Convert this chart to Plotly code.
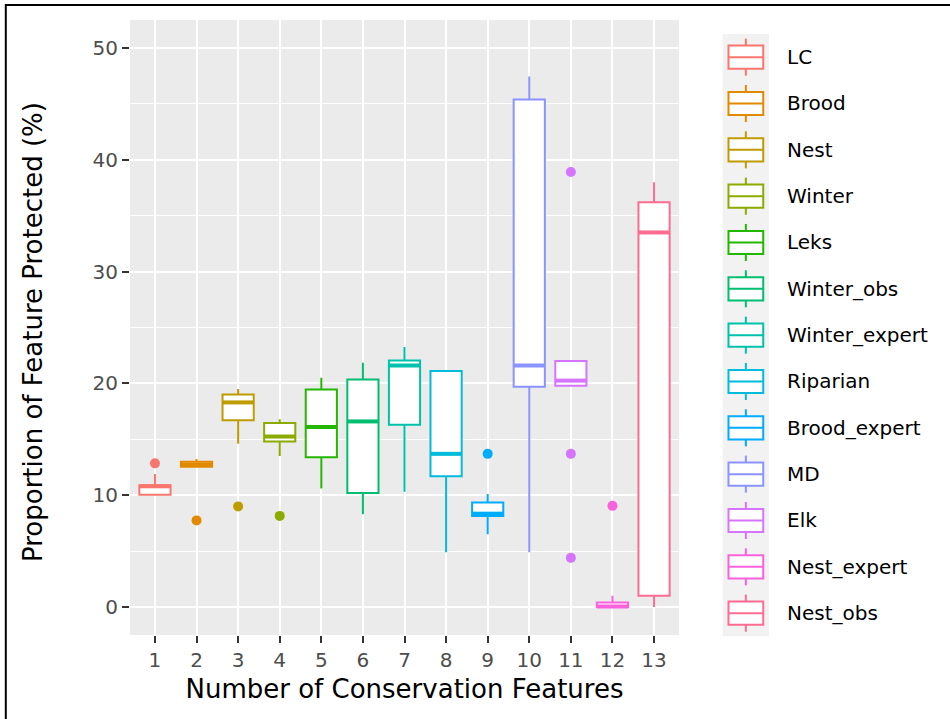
import plotly.graph_objects as go

# ---- data -------------------------------------------------------------
features = ["LC", "Brood", "Nest", "Winter", "Leks", "Winter_obs", "Winter_expert",
            "Riparian", "Brood_expert", "MD", "Elk", "Nest_expert", "Nest_obs"]
n_features = list(range(1, 14))
tick_labels = [str(n) for n in n_features]

lower_whisker = [10.05, 12.55, 14.6, 13.5, 10.6, 8.3, 10.3, 4.9, 6.5, 4.9, 19.8, 0.0, 0.0]
q1 = [10.05, 12.55, 16.7, 14.8, 13.4, 10.2, 16.3, 11.7, 8.15, 19.7, 19.8, 0.0, 1.0]
median = [10.8, 12.75, 18.3, 15.25, 16.1, 16.6, 21.6, 13.7, 8.35, 21.6, 20.25, 0.05, 33.5]
q3 = [10.9, 13.0, 19.0, 16.45, 19.45, 20.35, 22.05, 21.1, 9.35, 45.4, 22.0, 0.4, 36.2]
upper_whisker = [11.9, 13.25, 19.5, 16.8, 20.5, 21.85, 23.25, 21.1, 10.1, 47.45, 22.0, 1.0, 38.0]

outliers = {
    "LC": [12.85],
    "Brood": [7.75],
    "Nest": [9.0],
    "Winter": [8.15],
    "Brood_expert": [13.7],
    "Elk": [38.9, 13.7, 4.4],
    "Nest_expert": [9.05],
}

colors = ["#F8766D", "#E18A00", "#BE9C00", "#8CAB00", "#24B700", "#00BE70", "#00C1AB",
          "#00BBDA", "#00ACFC", "#8B93FF", "#D575FE", "#F962DD", "#FF6C91"]

# ---- page geometry ----------------------------------------------------
W, H = 950, 719
ML, MR, MT, MB = 130, 271, 20, 84
PW, PH = W - ML - MR, H - MT - MB
FONT = "DejaVu Sans"
BOX_W = 0.75


def px_x(p):
    return (p - ML) / PW


def px_y(p):
    return (H - MB - p) / PH


fig = go.Figure()

for i, name in enumerate(features):
    x = n_features[i]
    c = colors[i]
    fig.add_trace(go.Box(
        x=[x], q1=[q1[i]], median=[median[i]], q3=[q3[i]],
        lowerfence=[lower_whisker[i]], upperfence=[upper_whisker[i]],
        width=BOX_W, whiskerwidth=0, fillcolor="white",
        line=dict(color=c, width=2), boxpoints=False,
        name=name, showlegend=False,
    ))
    # thicker median bar
    fig.add_trace(go.Scatter(
        x=[x - BOX_W / 2, x + BOX_W / 2], y=[median[i], median[i]],
        mode="lines", line=dict(color=c, width=4),
        showlegend=False, hoverinfo="skip",
    ))
    if name in outliers:
        pts = outliers[name]
        fig.add_trace(go.Scatter(
            x=[x] * len(pts), y=pts, mode="markers",
            marker=dict(color=c, size=10, line=dict(width=0)),
            showlegend=False, name=name,
        ))

# ---- legend (boxplot keys) ---------------------------------------------
shapes = []
annotations = []
KEY_TOP, KEY_STEP = 34.0, 46.33
KEY_L, KEY_R = 722.7, 769.0
shapes.append(dict(type="rect", xref="paper", yref="paper",
                   x0=px_x(KEY_L), x1=px_x(KEY_R),
                   y0=px_y(KEY_TOP), y1=px_y(KEY_TOP + KEY_STEP * len(features)),
                   fillcolor="#F2F2F2", line=dict(width=0), layer="below"))
for i, name in enumerate(features):
    top = KEY_TOP + KEY_STEP * i
    cy = top + KEY_STEP / 2
    cx = (KEY_L + KEY_R) / 2
    bl = KEY_L + 0.125 * KEY_STEP
    br = KEY_L + 0.875 * KEY_STEP
    bt = top + 0.25 * KEY_STEP
    bb = top + 0.75 * KEY_STEP
    ln = dict(color=colors[i], width=2)
    shapes.append(dict(type="rect", xref="paper", yref="paper",
                       x0=px_x(bl), x1=px_x(br), y0=px_y(bb), y1=px_y(bt),
                       fillcolor="white", line=ln))
    shapes.append(dict(type="line", xref="paper", yref="paper",
                       x0=px_x(bl), x1=px_x(br), y0=px_y(cy), y1=px_y(cy), line=ln))
    shapes.append(dict(type="line", xref="paper", yref="paper",
                       x0=px_x(cx), x1=px_x(cx), y0=px_y(top + 0.1 * KEY_STEP),
                       y1=px_y(bt), line=ln))
    shapes.append(dict(type="line", xref="paper", yref="paper",
                       x0=px_x(cx), x1=px_x(cx), y0=px_y(bb),
                       y1=px_y(top + 0.9 * KEY_STEP), line=ln))
    annotations.append(dict(text=name, xref="paper", yref="paper",
                            x=px_x(785), y=px_y(cy), xanchor="left", yanchor="middle",
                            showarrow=False, font=dict(family=FONT, size=20, color="black")))

# y-axis title, rotated
annotations.append(dict(text="Proportion of Feature Protected (%)", xref="paper", yref="paper",
                        x=px_x(33), y=px_y(332), xanchor="center", yanchor="middle",
                        textangle=-90, showarrow=False,
                        font=dict(family=FONT, size=26, color="black")))

# outer frame
shapes.append(dict(type="rect", xref="paper", yref="paper",
                   x0=px_x(5.8), x1=px_x(1200), y0=px_y(900), y1=px_y(5),
                   line=dict(color="black", width=2), fillcolor="rgba(0,0,0,0)"))

fig.update_layout(
    width=W, height=H,
    margin=dict(l=ML, r=MR, t=MT, b=MB, autoexpand=False),
    paper_bgcolor="white", plot_bgcolor="#EBEBEB",
    boxmode="overlay", showlegend=False,
    font=dict(family=FONT),
    shapes=shapes, annotations=annotations,
    xaxis=dict(
        range=[0.4, 13.6], tickmode="array", tickvals=n_features, ticktext=tick_labels,
        showgrid=True, gridcolor="white", gridwidth=2, zeroline=False,
        ticks="outside", ticklen=7, tickwidth=2, tickcolor="#333333",
        tickfont=dict(family=FONT, size=20, color="#4D4D4D"),
        title=dict(text="Number of Conservation Features", standoff=8,
                   font=dict(family=FONT, size=26, color="black")),
        automargin=False,
    ),
    yaxis=dict(
        range=[-2.5, 52.5], tickmode="array", tickvals=[0, 10, 20, 30, 40, 50],
        showgrid=True, gridcolor="white", gridwidth=2, zeroline=False,
        minor=dict(tickmode="array", tickvals=[5, 15, 25, 35, 45], showgrid=True,
                   gridcolor="white", gridwidth=1, ticks=""),
        ticks="outside", ticklen=7, tickwidth=2, tickcolor="#333333",
        tickfont=dict(family=FONT, size=20, color="#4D4D4D"),
        automargin=False,
    ),
)

fig.write_html("out.html")
